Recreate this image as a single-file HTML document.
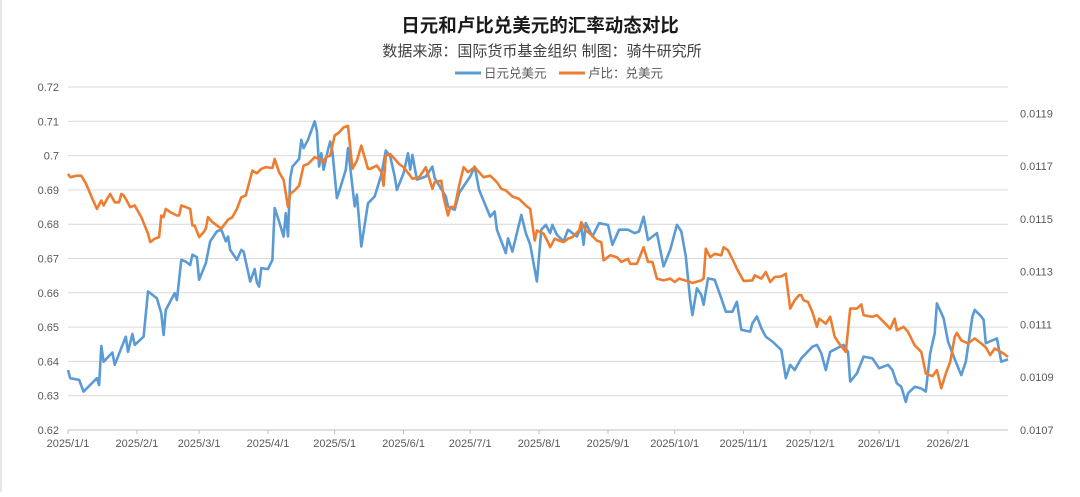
<!DOCTYPE html>
<html><head><meta charset="utf-8">
<style>
html,body{margin:0;padding:0;background:#fff;}
body{width:1080px;height:492px;overflow:hidden;font-family:"Liberation Sans","Noto Sans CJK SC",sans-serif;}
svg text{font-family:"Liberation Sans","Noto Sans CJK SC",sans-serif;}
</style></head>
<body>
<svg id="chart" width="1080" height="492" viewBox="0 0 1080 492">
  <rect x="0" y="0" width="1080" height="492" fill="#fff"/>
  <line x1="1" y1="0" x2="1" y2="492" stroke="#e6e6e6" stroke-width="2"/>
  <text x="540" y="32" text-anchor="middle" font-size="18.5" font-weight="bold" fill="#1a1a1a">日元和卢比兑美元的汇率动态对比</text>
  <text x="542" y="56" text-anchor="middle" font-size="15" fill="#404040">数据来源：国际货币基金组织  制图：骑牛研究所</text>
  <g>
    <g>
      <line x1="455" y1="73" x2="481" y2="73" stroke="#5b9bd5" stroke-width="3"/>
      <text x="484" y="77.5" font-size="12.5" fill="#595959">日元兑美元</text>
    </g>
    <g>
      <line x1="559" y1="73" x2="585" y2="73" stroke="#ed7d31" stroke-width="3"/>
      <text x="588" y="77.5" font-size="12.5" fill="#595959">卢比：兑美元</text>
    </g>
  </g>
  <g id="grid"></g>
  <g id="yleft"></g>
  <g id="yright"></g>
  <g id="xaxis"></g>
  <g id="series"></g>
</svg>
<script>
const xTickLabels = ["2025/1/1","2025/2/1","2025/3/1","2025/4/1","2025/5/1","2025/6/1","2025/7/1","2025/8/1","2025/9/1","2025/10/1","2025/11/1","2025/12/1","2026/1/1","2026/2/1"];
const xTickDays = [0,31,59,90,120,151,181,212,243,273,304,334,365,396];
const leftTicks = [0.62,0.63,0.64,0.65,0.66,0.67,0.68,0.69,0.7,0.71,0.72];
const leftTickLabels = ["0.62","0.63","0.64","0.65","0.66","0.67","0.68","0.69","0.7","0.71","0.72"];
const rightTicks = [0.0107,0.0109,0.0111,0.0113,0.0115,0.0117,0.0119];
const rightTickLabels = ["0.0107","0.0109","0.0111","0.0113","0.0115","0.0117","0.0119"];

const jpyDays = [0,1,5,7,13,14,15,16,20,21,26,27,29,30,34,36,40,42,43,44,48,49,51,53,55,56,58,59,62,64,67,69,71,72,73,76,78,79,82,84,85,86,87,90,92,93,95,97,98,99,100,101,104,105,106,108,111,112,113,114,115,117,118,119,121,122,125,126,128,129,130,132,135,138,141,143,145,147,148,151,153,154,155,157,161,164,165,170,171,174,176,181,183,185,190,192,193,197,198,200,204,206,208,211,213,215,217,218,220,223,225,229,231,232,233,236,239,243,245,248,252,255,257,259,261,265,268,271,274,276,278,280,281,283,285,286,288,291,294,296,299,301,303,307,308,310,312,314,317,321,323,325,327,330,335,337,339,341,343,349,351,352,355,358,362,365,369,371,373,375,377,378,381,384,386,388,390,391,394,396,398,401,402,404,407,408,411,412,413,418,420,423];
const jpyValues = [0.6375,0.6351,0.6346,0.6312,0.6351,0.6331,0.6445,0.6399,0.6426,0.6390,0.6472,0.6428,0.6480,0.6448,0.6472,0.6604,0.6584,0.6540,0.6477,0.6550,0.6599,0.6579,0.6696,0.6691,0.6681,0.6711,0.6704,0.6638,0.6686,0.6750,0.6779,0.6784,0.6750,0.6764,0.6725,0.6696,0.6725,0.6720,0.6633,0.6669,0.6630,0.6618,0.6672,0.6669,0.6696,0.6847,0.6808,0.6764,0.6832,0.6764,0.6934,0.6968,0.6990,0.7046,0.7022,0.7046,0.7100,0.7071,0.6968,0.7007,0.6959,0.7017,0.7041,0.7012,0.6876,0.6895,0.6959,0.7022,0.6910,0.6852,0.6886,0.6735,0.6861,0.6881,0.6944,0.7015,0.6998,0.6939,0.6900,0.6949,0.7007,0.6959,0.7002,0.6930,0.6939,0.6968,0.6934,0.6881,0.6852,0.6842,0.6891,0.6939,0.6968,0.6900,0.6822,0.6837,0.6784,0.6716,0.6759,0.6720,0.6827,0.6774,0.6740,0.6633,0.6784,0.6798,0.6774,0.6798,0.6769,0.6750,0.6784,0.6764,0.6793,0.6740,0.6803,0.6764,0.6803,0.6798,0.6740,0.6784,0.6784,0.6774,0.6779,0.6822,0.6754,0.6774,0.6677,0.6725,0.6798,0.6779,0.6706,0.6579,0.6535,0.6613,0.6594,0.6565,0.6642,0.6638,0.6584,0.6545,0.6545,0.6574,0.6492,0.6487,0.6511,0.6531,0.6497,0.6472,0.6458,0.6433,0.6351,0.6390,0.6375,0.6409,0.6443,0.6448,0.6424,0.6375,0.6428,0.6448,0.6428,0.6341,0.6365,0.6414,0.6409,0.6380,0.6390,0.6375,0.6336,0.6326,0.6282,0.6307,0.6326,0.6321,0.6312,0.6424,0.6482,0.6569,0.6526,0.6458,0.6424,0.6375,0.6360,0.6399,0.6531,0.6550,0.6531,0.6521,0.6453,0.6467,0.6399,0.6406];

const phpDays = [0,1,4,6,8,11,13,15,16,18,19,21,23,24,25,26,28,30,33,36,37,39,41,42,43,44,46,49,50,51,53,55,56,57,59,61,62,63,65,69,72,74,76,78,80,82,83,85,87,89,92,93,94,95,97,99,100,102,104,106,108,111,113,115,116,118,120,122,124,126,128,130,132,135,136,139,141,142,143,145,147,149,151,154,155,158,160,161,164,165,168,169,171,172,174,176,178,180,183,185,187,190,193,195,197,200,203,206,208,210,211,214,216,217,219,221,223,225,227,230,231,233,235,238,240,241,244,247,249,252,253,256,259,261,263,265,268,271,273,275,280,281,285,286,287,289,291,294,295,297,300,301,304,308,309,312,314,316,318,321,323,325,327,329,330,331,333,335,337,338,341,343,345,347,350,352,355,357,358,362,364,367,370,372,373,376,378,381,384,386,389,391,393,395,397,399,400,402,405,408,411,413,415,417,421,423];
const phpValues = [0.011671,0.011658,0.011664,0.011664,0.011635,0.011576,0.011538,0.011570,0.011551,0.011582,0.011595,0.011563,0.011563,0.011595,0.011589,0.011576,0.011545,0.011551,0.011507,0.011444,0.011412,0.011425,0.011431,0.011513,0.011507,0.011538,0.011526,0.011513,0.011513,0.011551,0.011545,0.011538,0.011475,0.011475,0.011431,0.011450,0.011463,0.011507,0.011488,0.011463,0.011497,0.011507,0.011538,0.011582,0.011589,0.011652,0.011683,0.011673,0.011690,0.011696,0.011693,0.011727,0.011702,0.011677,0.011648,0.011545,0.011595,0.011608,0.011626,0.011702,0.011708,0.011734,0.011727,0.011715,0.011734,0.011740,0.011816,0.011828,0.011847,0.011853,0.011690,0.011721,0.011778,0.011690,0.011690,0.011702,0.011677,0.011626,0.011740,0.011746,0.011727,0.011708,0.011696,0.011664,0.011652,0.011658,0.011683,0.011696,0.011614,0.011639,0.011645,0.011582,0.011513,0.011545,0.011545,0.011626,0.011696,0.011677,0.011696,0.011677,0.011658,0.011664,0.011639,0.011614,0.011608,0.011585,0.011576,0.011551,0.011538,0.011418,0.011456,0.011444,0.011412,0.011393,0.011425,0.011418,0.011412,0.011425,0.011431,0.011456,0.011488,0.011456,0.011444,0.011418,0.011412,0.011343,0.011362,0.011355,0.011337,0.011349,0.011330,0.011330,0.011393,0.011337,0.011337,0.011274,0.011267,0.011274,0.011261,0.011274,0.011261,0.011257,0.011267,0.011274,0.011387,0.011355,0.011368,0.011362,0.011393,0.011381,0.011330,0.011311,0.011265,0.011267,0.011286,0.011274,0.011299,0.011261,0.011280,0.011282,0.011292,0.011160,0.011192,0.011211,0.011211,0.011192,0.011185,0.011147,0.011091,0.011122,0.011103,0.011129,0.011053,0.011028,0.010996,0.011160,0.011160,0.011176,0.011135,0.011129,0.011135,0.011110,0.011084,0.011122,0.011078,0.011091,0.011072,0.011021,0.010996,0.010914,0.010904,0.010927,0.010858,0.010914,0.010958,0.011053,0.011068,0.011040,0.011028,0.011047,0.011028,0.011013,0.010984,0.011009,0.010990,0.010977];

const NS = "http://www.w3.org/2000/svg";
const X0 = 68, X1 = 1008, Y0 = 430, Y1 = 87, DMAX = 423;
const L_MIN = 0.62, L_MAX = 0.72, R_MIN = 0.0107, R_MAX = 0.0120;
function xScale(d){ return X0 + d/DMAX*(X1-X0); }
function yLeft(v){ return Y0 - (v-L_MIN)/(L_MAX-L_MIN)*(Y0-Y1); }
function yRight(v){ return Y0 - (v-R_MIN)/(R_MAX-R_MIN)*(Y0-Y1); }
function mk(tag, attrs, parent){ const e=document.createElementNS(NS,tag); for(const k in attrs) e.setAttribute(k,attrs[k]); parent.appendChild(e); return e; }

const grid=document.getElementById('grid'), yl=document.getElementById('yleft'), yr=document.getElementById('yright'), xa=document.getElementById('xaxis'), ser=document.getElementById('series');

leftTicks.forEach((v,i)=>{
  const y=yLeft(v);
  const g=mk('line',{x1:X0,x2:X1,y1:y,y2:y,stroke:i===0?'#bfbfbf':'#d9d9d9','stroke-width':1},grid);
  
  
  const t=mk('text',{x:59,y:y+4,'text-anchor':'end','font-size':11,fill:'#595959'},yl);
  t.textContent=leftTickLabels[i];
  
  
});
rightTicks.forEach((v,i)=>{
  const t=mk('text',{x:1020,y:yRight(v)+4,'text-anchor':'start','font-size':11,fill:'#595959'},yr);
  t.textContent=rightTickLabels[i];
  
  
});
xTickDays.forEach((d,i)=>{
  const x=xScale(d);
  const tk=mk('line',{x1:x,x2:x,y1:Y0,y2:Y0+4,stroke:'#bfbfbf','stroke-width':1},xa);
  
  
  const t=mk('text',{x:x,y:Y0+17,'text-anchor':'middle','font-size':11,fill:'#595959'},xa);
  t.textContent=xTickLabels[i];
  
  
});

function path(days, vals, ys){ return days.map((d,i)=>(i?'L':'M')+xScale(d).toFixed(1)+','+ys(vals[i]).toFixed(1)).join(''); }
const pj=mk('path',{d:path(jpyDays,jpyValues,yLeft),fill:'none',stroke:'#5b9bd5','stroke-width':2.6,'stroke-linejoin':'round'},ser);


const pp=mk('path',{d:path(phpDays,phpValues,yRight),fill:'none',stroke:'#ed7d31','stroke-width':2.6,'stroke-linejoin':'round'},ser);


</script>
</body></html>
